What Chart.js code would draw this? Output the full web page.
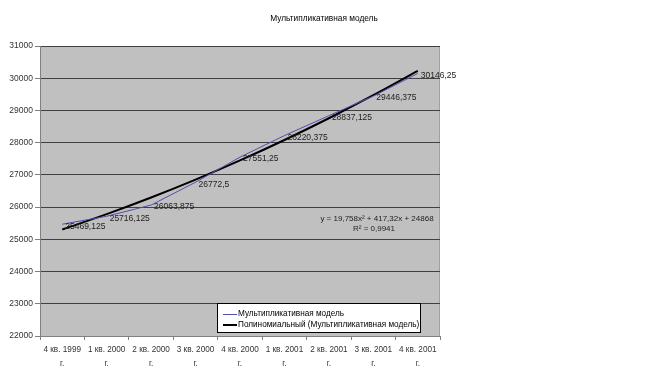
<!DOCTYPE html>
<html>
<head>
<meta charset="utf-8">
<script src="https://cdn.jsdelivr.net/npm/chart.js@4.4.0/dist/chart.umd.min.js"></script>
<style>
  html, body { margin: 0; padding: 0; background: #fff; }
  #wrap { width: 650px; height: 377px; }
</style>
</head>
<body>
<div id="wrap"><canvas id="mChart" width="650" height="377"></canvas></div>
<script>
// quarters
var labels = [
  ["4 кв. 1999", "г."], ["1 кв. 2000", "г."], ["2 кв. 2000", "г."],
  ["3 кв. 2000", "г."], ["4 кв. 2000", "г."], ["1 кв. 2001", "г."],
  ["2 кв. 2001", "г."], ["3 кв. 2001", "г."], ["4 кв. 2001", "г."]
];
var modelValues = [25469.125, 25716.125, 26063.875, 26772.5, 27551.25, 28220.375, 28837.125, 29446.375, 30146.25];
var valueLabels = ["25469,125", "25716,125", "26063,875", "26772,5", "27551,25", "28220,375", "28837,125", "29446,375", "30146,25"];
// polynomial trend
var trendValues = [25305, 25781, 26297, 26852, 27448, 28083, 28758, 29473, 30228];
var yTicks = [22000, 23000, 24000, 25000, 26000, 27000, 28000, 29000, 30000, 31000];

var FONT = "'Liberation Sans', Arial, sans-serif";

// background of the plot + title, labels, legend, equation
var excelStuff = {
  id: 'excelStuff',
  beforeDraw: function(chart) {
    var c = chart.ctx, a = chart.chartArea;
    c.save();
    c.fillStyle = '#c0c0c0';
    c.fillRect(a.left, a.top, a.right - a.left, a.bottom - a.top);
    c.strokeStyle = '#a0a0a0';
    c.strokeRect(a.right - 0.5, a.top, 0, a.bottom - a.top);
    c.restore();
  },
  afterDraw: function(chart) {
    var c = chart.ctx;
    c.save();
    // title
    c.fillStyle = '#000';
    c.font = '8.3px ' + FONT;
    c.textAlign = 'center';
    c.textBaseline = 'middle';
    c.fillText('Мультипликативная модель', 324, 19);

    // data labels
    c.font = '8.5px ' + FONT;
    c.fillStyle = '#222';
    c.textAlign = 'left';
    var pts = chart.getDatasetMeta(0).data;
    pts.forEach(function(p, i) {
      c.fillText(valueLabels[i], p.x + 3, p.y + 2);
    });

    // trend equation
    c.textAlign = 'center';
    c.font = '8px ' + FONT;
    c.fillText('y = 19,758x² + 417,32x + 24868', 377, 219);
    c.fillText('R² = 0,9941', 374, 229);

    // legend
    c.fillStyle = '#fff';
    c.fillRect(217, 303, 204, 30);
    c.strokeStyle = '#000';
    c.lineWidth = 1;
    c.strokeRect(217.5, 303.5, 203, 29);
    c.textAlign = 'left';
    c.fillStyle = '#000';
    c.font = '8.2px ' + FONT;
    c.strokeStyle = '#5050b0';
    c.beginPath(); c.moveTo(223, 314.5); c.lineTo(237, 314.5); c.stroke();
    c.fillText('Мультипликативная модель', 238, 314);
    c.strokeStyle = '#000';
    c.lineWidth = 2;
    c.beginPath(); c.moveTo(223, 325); c.lineTo(237, 325); c.stroke();
    c.fillText('Полиномиальный (Мультипликативная модель)', 238, 325);
    c.restore();
  }
};

var ctx = document.getElementById('mChart').getContext('2d');
var chart = new Chart(ctx, {
  type: 'line',
  data: {
    labels: labels,
    datasets: [{
      label: 'Мультипликативная модель',
      data: modelValues,
      borderColor: '#5050b0',
      borderWidth: 1,
      pointRadius: 0,
      tension: 0,
      fill: false
    }, {
      label: 'Полиномиальный (Мультипликативная модель)',
      data: trendValues,
      borderColor: '#000',
      borderWidth: 2,
      pointRadius: 0,
      tension: 0.4,
      fill: false
    }]
  },
  options: {
    responsive: false,
    animation: false,
    layout: { padding: { left: 0, right: 210, top: 46, bottom: 0 } },
    plugins: {
      legend: { display: false },
      title: { display: false },
      tooltip: { enabled: false }
    },
    scales: {
      x: {
        offset: true,
        afterFit: function(s) { s.height = 41; },
        grid: { drawOnChartArea: false, drawTicks: true, tickLength: 4, color: '#808080', offset: true },
        border: { color: '#808080' },
        ticks: { color: '#333', font: { family: FONT, size: 8.2, lineHeight: 1.7 }, maxRotation: 0, padding: 3 }
      },
      y: {
        min: 22000,
        max: 31000,
        afterFit: function(s) { s.width = 40; },
        afterBuildTicks: function(s) { s.ticks = yTicks.map(function(v) { return { value: v }; }); },
        grid: { color: '#404040', tickLength: 5, tickColor: '#808080' },
        border: { color: '#808080' },
        ticks: {
          color: '#333', font: { family: FONT, size: 8.5 }, padding: 2,
          callback: function(v) { return String(v); }
        }
      }
    }
  },
  plugins: [excelStuff]
});
</script>
</body>
</html>
